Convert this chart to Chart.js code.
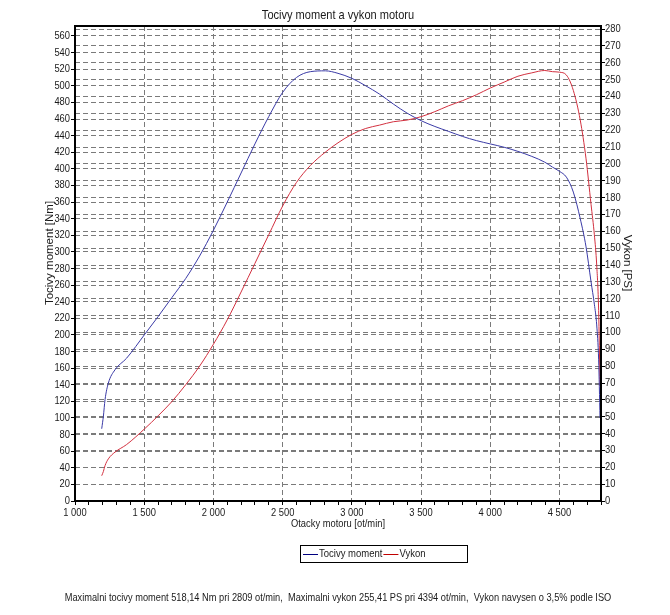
<!DOCTYPE html>
<html>
<head>
<meta charset="utf-8">
<script src="https://cdn.jsdelivr.net/npm/chart.js@4/dist/chart.umd.min.js"></script>
<style>
html,body{margin:0;padding:0;background:#fff;}
canvas{display:block;}
</style>
</head>
<body>
<canvas id="c" width="670" height="615"></canvas>
<script>
// ---- data ----
const chartTitle = "Tocivy moment a vykon motoru";
const xTitle = "Otacky motoru [ot/min]";
const yLeftTitle = "Tocivy moment [Nm]";
const yRightTitle = "Vykon [PS]";
const seriesNames = ["Tocivy moment", "Vykon"];
const footnote = "Maximalni tocivy moment 518,14 Nm pri 2809 ot/min,  Maximalni vykon 255,41 PS pri 4394 ot/min,  Vykon navysen o 3,5% podle ISO";

const rpm = [1193,1205,1217,1241,1289,1373,1505,1600,1700,1800,1900,2000,2100,2200,2300,2400,2500,2600,2700,2809,2900,3000,3100,3200,3300,3400,3500,3600,3700,3800,3900,4000,4100,4200,4300,4394,4450,4500,4550,4600,4650,4692,4728,4752,4769,4783,4793];
const torqueNm = [87,102,122,142,158,172,201,222,245,268,295,326,360,395,430,463,492,510,517,518,515,509,500,490,478,467,458,451,445,439,434,430,426,421,415,408,402,397,390,372,340,306,264,237,212,170,100];
const powerPs = [15,17.5,21,25,29,33.5,43,50.5,59,69,80,93,107.5,124,141,158,175,189,199,207,212.5,217.5,221,223,225,226,228,231,234.5,237.5,241,245,248.5,252,254,255.4,254.7,254.4,252.7,243.6,226,203,176,158,140,113,68];

const xMin = 1000, xMax = 4800, xStep = 100, xLabelStep = 500;
const yLeftMax = 572, yLeftStep = 20;
const yRightMax = 281.8, yRightStep = 10;

// ---- chart ----
const FONT = '"Liberation Sans", Arial, sans-serif';
const SX = 0.85; // horizontal squeeze of the reference's text
const gridGray = '#7a7a7a';
const fmt = v => String(v).replace(/\B(?=(\d{3})+(?!\d))/g, ' ');

function txt(ctx, s, x, y, size, align, sx, rot) {
  ctx.save();
  ctx.translate(x, y);
  if (rot) ctx.rotate(rot);
  ctx.scale(sx, 1);
  ctx.font = size + 'px ' + FONT;
  ctx.textAlign = align;
  ctx.textBaseline = 'middle';
  ctx.fillText(s, 0, 0);
  ctx.restore();
}

const overlay = {
  id: 'overlay',
  afterDraw(chart) {
    const ctx = chart.ctx;
    const a = chart.chartArea;
    ctx.save();
    // frame
    ctx.strokeStyle = '#000';
    ctx.lineWidth = 2;
    ctx.strokeRect(a.left, a.top, a.right - a.left, a.bottom - a.top);
    ctx.fillStyle = '#1a1a1a';
    // tick labels via the chart's scales
    const sL = chart.scales.yL, sR = chart.scales.yR, sX = chart.scales.x;
    sL.ticks.forEach(t => txt(ctx, String(t.value), a.left - 5, sL.getPixelForValue(t.value), 11, 'right', SX));
    sR.ticks.forEach(t => txt(ctx, String(t.value), a.right + 4, sR.getPixelForValue(t.value), 11, 'left', SX));
    sX.ticks.forEach(t => { if (t.value % xLabelStep === 0) txt(ctx, fmt(t.value), sX.getPixelForValue(t.value), 513, 11, 'center', SX); });
    const cx = (a.left + a.right) / 2;
    txt(ctx, chartTitle, cx, 15, 13, 'center', SX);
    txt(ctx, xTitle, cx, 524, 11, 'center', SX);
    txt(ctx, yLeftTitle, 50, 253, 11.5, 'center', 1, -Math.PI / 2);
    txt(ctx, yRightTitle, 627, 263, 11.5, 'center', 1, Math.PI / 2);
    // legend
    ctx.lineWidth = 1;
    ctx.strokeStyle = '#000';
    ctx.strokeRect(300.5, 545.5, 167, 17);
    let x = 303;
    const ly = 554;
    ctx.font = '11.2px ' + FONT;
    chart.data.datasets.forEach(ds => {
      ctx.strokeStyle = ds.legendColor;
      ctx.beginPath();
      ctx.moveTo(x, ly + 0.5);
      ctx.lineTo(x + 15, ly + 0.5);
      ctx.stroke();
      x += 16;
      txt(ctx, ds.label, x, ly, 11.2, 'left', SX);
      ctx.font = '11.2px ' + FONT;
      x += ctx.measureText(ds.label).width * SX + 1;
    });
    // footnote
    txt(ctx, footnote, 338, 598, 10.9, 'center', SX);
    ctx.restore();
  }
};

new Chart(document.getElementById('c'), {
  type: 'line',
  data: {
    datasets: [
      {
        label: seriesNames[0],
        data: rpm.map((r, i) => ({x: r, y: torqueNm[i]})),
        yAxisID: 'yL',
        borderColor: '#3a3aa6',
        legendColor: '#000080',
        borderWidth: 1,
        pointRadius: 0,
        cubicInterpolationMode: 'monotone'
      },
      {
        label: seriesNames[1],
        data: rpm.map((r, i) => ({x: r, y: powerPs[i]})),
        yAxisID: 'yR',
        borderColor: '#d2303f',
        legendColor: '#c00000',
        borderWidth: 1,
        pointRadius: 0,
        cubicInterpolationMode: 'monotone'
      }
    ]
  },
  options: {
    responsive: false,
    animation: false,
    devicePixelRatio: 1,
    layout: {padding: {top: 26, left: 0, right: 0, bottom: 0}},
    plugins: {legend: {display: false}, title: {display: false}, tooltip: {enabled: false}},
    scales: {
      x: {
        type: 'linear',
        min: xMin, max: xMax,
        afterFit: s => { s.height = 114; },
        border: {display: false, dash: [5, 3]},
        grid: {
          color: c => (c.tick && c.tick.value % xLabelStep === 0) ? gridGray : 'rgba(0,0,0,0)',
          tickColor: '#000',
          tickLength: 4,
          lineWidth: 1
        },
        ticks: {stepSize: xStep, autoSkip: false, maxRotation: 0, maxTicksLimit: 1000, display: false}
      },
      yL: {
        type: 'linear',
        position: 'left',
        min: 0, max: yLeftMax,
        afterFit: s => { s.width = 75; },
        border: {display: false, dash: [5, 3]},
        grid: {color: gridGray, tickColor: '#000', tickLength: 4, lineWidth: 1},
        ticks: {stepSize: yLeftStep, includeBounds: false, autoSkip: false, maxTicksLimit: 1000, display: false}
      },
      yR: {
        type: 'linear',
        position: 'right',
        min: 0, max: yRightMax,
        afterFit: s => { s.width = 69; },
        border: {display: false, dash: [5, 3]},
        grid: {color: gridGray, tickColor: '#000', tickLength: 4, lineWidth: 1, drawOnChartArea: true},
        ticks: {stepSize: yRightStep, includeBounds: false, autoSkip: false, maxTicksLimit: 1000, display: false}
      }
    }
  },
  plugins: [overlay]
});
</script>
</body>
</html>
